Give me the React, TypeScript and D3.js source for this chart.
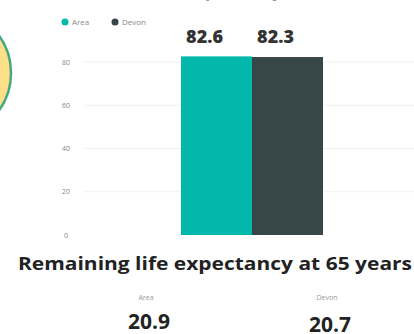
import React from "react";
import * as d3 from "d3";

const categories = ["Area", "Devon"];
const birthValues = [82.6, 82.3];
const at65Values = [20.9, 20.7];
const yTicks = [0, 20, 40, 60, 80];
const topTitle = "Life expectancy at birth";
const bottomTitle = "Remaining life expectancy at 65 years";
const colors = ["#01B8AA", "#374649"];

export default function App() {
  const W = 414;
  const H = 334;
  const y = d3.scaleLinear().domain([0, 80]).range([235, 62]);
  const x = d3.scaleBand<string>().domain(categories).range([181, 323]).padding(0);
  const x2 = d3.scalePoint<string>().domain(categories).range([149, 330]);
  const font = "'Open Sans', 'Noto Sans', sans-serif";

  return (
    <svg
      width={W}
      height={H}
      style={{ position: "absolute", left: 0, top: 0, background: "#fff" }}
      fontFamily={font}
    >
      {/* partial circle on left */}
      <circle cx={-53} cy={73} r={64} fill="#FCDF86" stroke="#45A97E" strokeWidth={2.5} />

      {/* cut-off top title */}
      <text x={250} y={-3} textAnchor="middle" fontSize={17} fontWeight={700} fill="#555" opacity={0.6}>
        {topTitle}
      </text>

      {/* legend */}
      {categories.map((c, i) => {
        const lx = i === 0 ? 65 : 115;
        return (
          <g key={c}>
            <circle cx={lx} cy={22} r={3.5} fill={colors[i]} />
            <text x={lx + 7} y={24.5} fontSize={8} fill="#888">
              {c}
            </text>
          </g>
        );
      })}

      {/* gridlines and y ticks */}
      {yTicks.map((t) => (
        <g key={t}>
          {t > 0 && (
            <line x1={84} x2={W} y1={y(t)} y2={y(t)} stroke="#f1f1f1" strokeWidth={1} />
          )}
          <text x={66} y={y(t) + 2.5} textAnchor="middle" fontSize={7} fill="#888">
            {t}
          </text>
        </g>
      ))}

      {/* bars */}
      {categories.map((c, i) => (
        <rect
          key={c}
          x={x(c)}
          y={y(birthValues[i])}
          width={x.bandwidth()}
          height={y(0) - y(birthValues[i])}
          fill={colors[i]}
        />
      ))}

      {/* value labels */}
      {categories.map((c, i) => (
        <text
          key={c}
          x={(x(c) as number) + x.bandwidth() / 2 - 12}
          y={43}
          textAnchor="middle"
          fontSize={18}
          fontWeight={800}
          fill="#333"
        >
          {birthValues[i].toFixed(1)}
        </text>
      ))}

      {/* bottom title */}
      <text
        x={18}
        y={270}
        fontSize={18}
        fontWeight={700}
        fill="#222"
        textLength={394}
        lengthAdjust="spacingAndGlyphs"
      >
        {bottomTitle}
      </text>

      {/* bottom cards */}
      {categories.map((c, i) => (
        <g key={c}>
          <text x={(x2(c) as number) - 3} y={300} textAnchor="middle" fontSize={7} fill="#999">
            {c}
          </text>
          <text
            x={x2(c)}
            y={i === 0 ? 329 : 332}
            textAnchor="middle"
            fontSize={21}
            fontWeight={700}
            fill="#222"
          >
            {at65Values[i].toFixed(1)}
          </text>
        </g>
      ))}
    </svg>
  );
}
